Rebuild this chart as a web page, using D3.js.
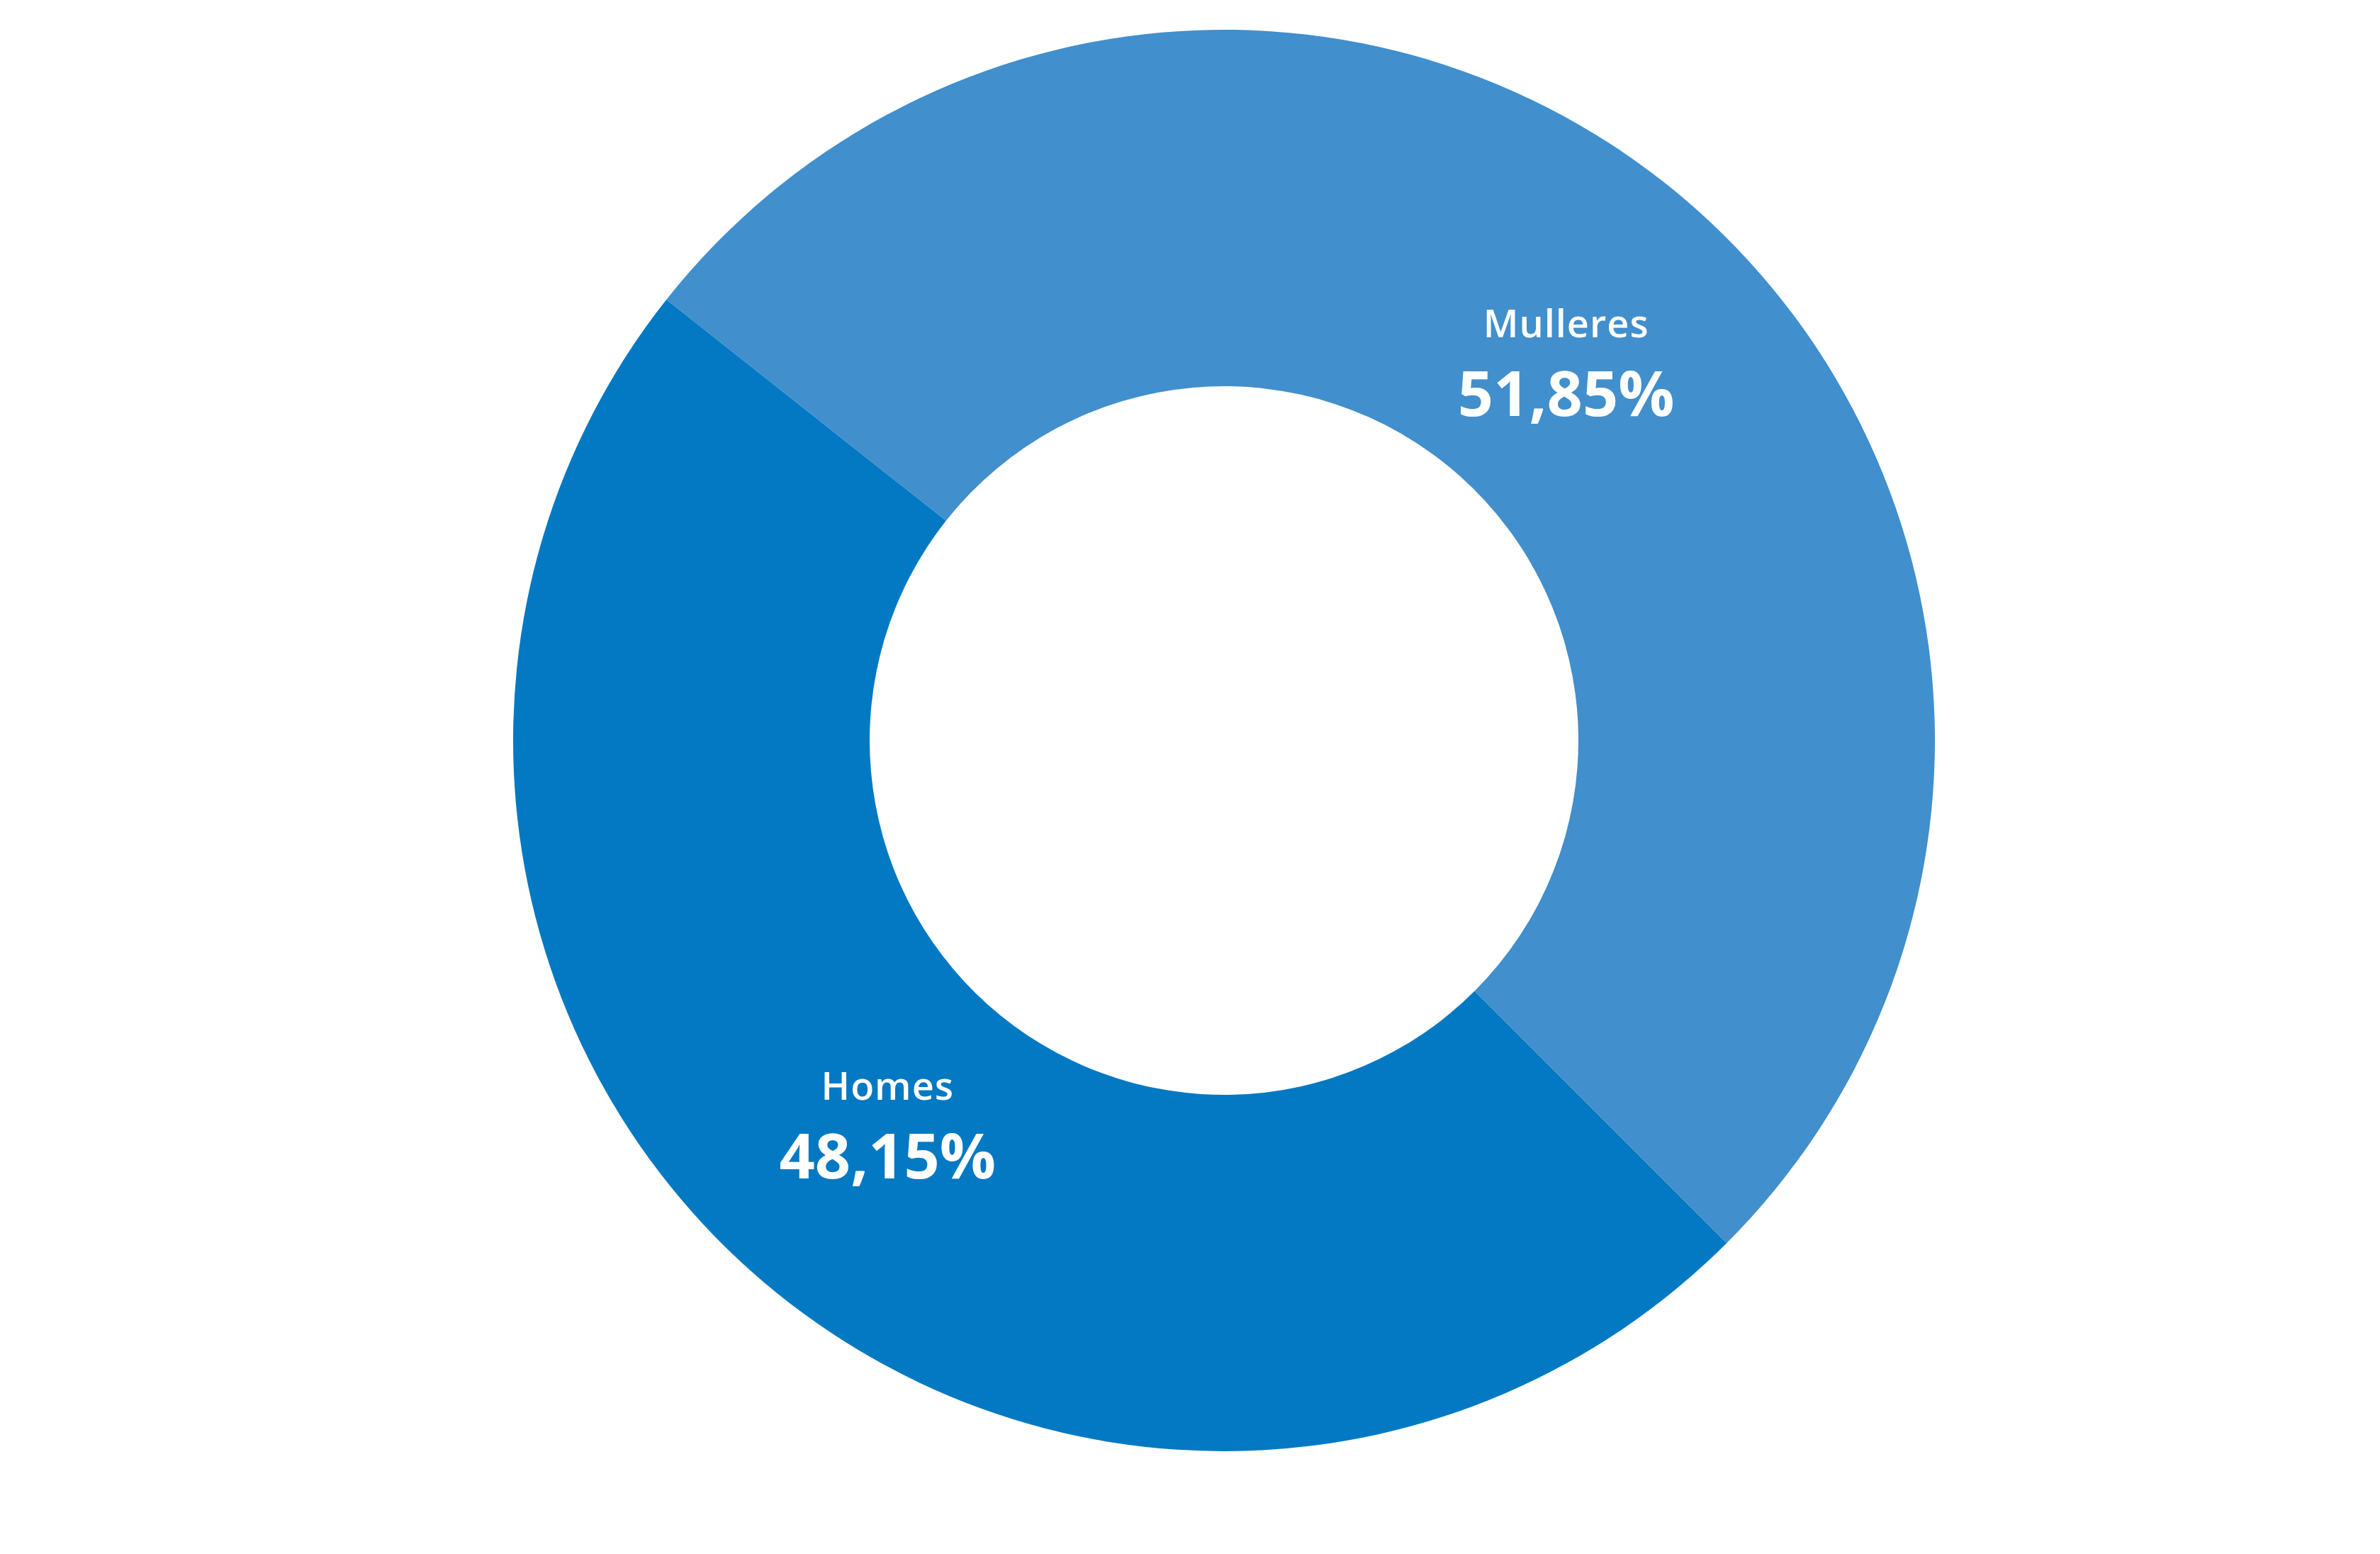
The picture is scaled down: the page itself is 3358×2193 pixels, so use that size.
<!DOCTYPE html>
<html>
<head>
<meta charset="utf-8">
<script src="https://cdn.jsdelivr.net/npm/d3@7"></script>
<style>
html,body{margin:0;padding:0;background:#fff;}
svg{display:block;}
</style>
</head>
<body>
<svg id="chart" width="3358" height="2193"></svg>
<script>
const categories = ["Homes", "Mulleres"];
const values = [48.15, 51.85];
const valueLabels = ["48,15%", "51,85%"];
const colors = ["#0379c3", "#418fcd"];

const svg = d3.select("#chart");
const cx = 1727, cy = 1045;
const outerR = 1003, innerR = 500;
const labelR = 720;

const data = categories.map((c, i) => ({name: c, value: values[i], label: valueLabels[i], color: colors[i]}));

const pie = d3.pie().sort(null).value(d => d.value)
  .startAngle(3 * Math.PI / 4).endAngle(3 * Math.PI / 4 + 2 * Math.PI);
const arc = d3.arc().innerRadius(innerR).outerRadius(outerR);
const labelArc = d3.arc().innerRadius(labelR).outerRadius(labelR);

const g = svg.append("g").attr("transform", `translate(${cx},${cy})`);
const arcs = pie(data);

g.selectAll("path.slice").data(arcs).join("path")
  .attr("class", "slice")
  .attr("d", arc)
  .attr("fill", d => d.data.color);

const lab = g.selectAll("g.lab").data(arcs).join("g")
  .attr("class", "lab")
  .attr("transform", d => { const c = labelArc.centroid(d); return `translate(${c[0] + 4},${c[1]})`; });

lab.append("text")
  .attr("text-anchor", "middle")
  .attr("y", -31)
  .attr("fill", "#fff")
  .style("font-family", "'Open Sans', sans-serif")
  .style("font-weight", 600)
  .style("font-size", "54px")
  .style("letter-spacing", "1px")
  .text(d => d.data.name);

lab.append("text")
  .attr("text-anchor", "middle")
  .attr("y", 80)
  .attr("fill", "#fff")
  .style("font-family", "'Open Sans', sans-serif")
  .style("font-weight", 700)
  .style("font-size", "88px")
  .text(d => d.data.label);
</script>
</body>
</html>
